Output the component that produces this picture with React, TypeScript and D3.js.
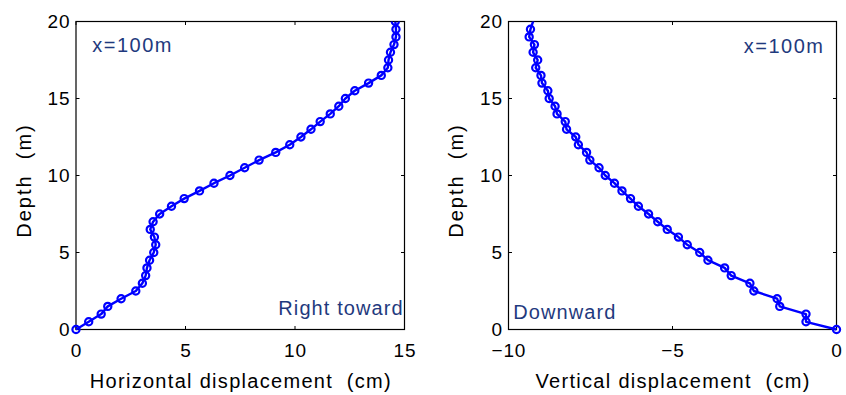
import React from "react";
import * as d3 from "d3";

// depth (m)
const depthLeft = [0, 0.5, 1, 1.5, 2, 2.5, 3, 3.5, 4, 4.5, 5, 5.5, 6, 6.5, 7, 7.5, 8, 8.5, 9, 9.5, 10,
  10.5, 11, 11.5, 12, 12.5, 13, 13.5, 14, 14.5, 15, 15.5, 16, 16.5, 17, 17.5, 18, 18.5, 19, 19.5, 20];
// horizontal displacement (cm)
const horizontal = [0, 0.58, 1.15, 1.45, 2.06, 2.73, 3.03, 3.18, 3.24, 3.36, 3.55, 3.64, 3.58, 3.39, 3.52,
  3.82, 4.36, 4.94, 5.64, 6.3, 7.03, 7.7, 8.36, 9.12, 9.76, 10.27, 10.73, 11.15, 11.61, 12.0, 12.3,
  12.73, 13.36, 13.94, 14.24, 14.27, 14.36, 14.52, 14.61, 14.61, 14.58];

const depthRight = [0, 0.5, 1, 1.5, 2, 2.5, 3, 3.5, 4, 4.5, 5, 5.5, 6, 6.5, 7, 7.5, 8, 8.5, 9, 9.5, 10,
  10.5, 11, 11.5, 12, 12.5, 13, 13.5, 14, 14.5, 15, 15.5, 16, 16.5, 17, 17.5, 18, 18.5, 19, 19.5, 20.5];
// vertical displacement (cm)
const vertical = [0, -0.93, -0.93, -1.73, -1.81, -2.52, -2.64, -3.21, -3.41, -3.92, -4.17, -4.55, -4.82,
  -5.16, -5.45, -5.73, -6.04, -6.28, -6.54, -6.77, -7.05, -7.24, -7.52, -7.62, -7.87, -7.95, -8.23,
  -8.27, -8.52, -8.58, -8.76, -8.8, -8.98, -9.01, -9.17, -9.11, -9.25, -9.21, -9.37, -9.33, -9.17];

const leftXTicks = [0, 5, 10, 15];
const rightXTicks = [-10, -5, 0];
const yTicks = [0, 5, 10, 15, 20];

const FONT = "'Liberation Sans', Arial, Helvetica, sans-serif";
const NAVY = "#1f3a7e";
const BLUE = "#0000ff";

const TOP = 21.5;
const BOTTOM = 329.5;
const TICK_FS = 19;
const TICK_LS = 0.8;
const LABEL_FS = 20;

type Tag = { text: string; x: number; y: number; anchor: string; ls: number };

type PanelProps = {
  id: string;
  x0: number;
  x1: number;
  xDomain: [number, number];
  xTicks: number[];
  xs: number[];
  ys: number[];
  xLabel: string;
  tag: Tag;
  dir: Tag;
};

function fmt(v: number) {
  return v < 0 ? "\u2212" + Math.abs(v) : String(v);
}

function TagText({ t }: { t: Tag }) {
  const x = t.anchor === "end" ? t.x + t.ls : t.anchor === "middle" ? t.x + t.ls / 2 : t.x;
  return (
    <text x={x} y={t.y} textAnchor={t.anchor} fontSize={LABEL_FS} fontFamily={FONT} fill={NAVY} letterSpacing={t.ls}>
      {t.text}
    </text>
  );
}

function Panel(p: PanelProps) {
  const xs = d3.scaleLinear().domain(p.xDomain).range([p.x0, p.x1]);
  const ys = d3.scaleLinear().domain([0, 20]).range([BOTTOM, TOP]);
  const pts: [number, number][] = p.xs.map((v, i) => [v, p.ys[i]]);
  const line = d3.line<[number, number]>().x((d) => xs(d[0])).y((d) => ys(d[1]));
  const tl = 3.5;
  const cx = (p.x0 + p.x1) / 2;
  return (
    <g>
      <defs>
        <clipPath id={p.id}>
          <rect x={p.x0 - 6} y={TOP} width={p.x1 - p.x0 + 12} height={BOTTOM - TOP + 6} />
        </clipPath>
      </defs>
      {p.xTicks.map((t) => (
        <g key={"xt" + t}>
          <line x1={xs(t)} x2={xs(t)} y1={BOTTOM} y2={BOTTOM - tl} stroke="#000" strokeWidth={1} />
          <line x1={xs(t)} x2={xs(t)} y1={TOP} y2={TOP + tl} stroke="#000" strokeWidth={1} />
          <text x={xs(t) + TICK_LS / 2} y={BOTTOM + 27} textAnchor="middle" fontSize={TICK_FS} fontFamily={FONT} fill="#000" letterSpacing={TICK_LS}>
            {fmt(t)}
          </text>
        </g>
      ))}
      {yTicks.map((t) => (
        <g key={"yt" + t}>
          <line x1={p.x0} x2={p.x0 + tl} y1={ys(t)} y2={ys(t)} stroke="#000" strokeWidth={1} />
          <line x1={p.x1} x2={p.x1 - tl} y1={ys(t)} y2={ys(t)} stroke="#000" strokeWidth={1} />
          <text x={p.x0 - 6.5 + TICK_LS} y={ys(t) + 6.6} textAnchor="end" fontSize={TICK_FS} fontFamily={FONT} fill="#000" letterSpacing={TICK_LS}>
            {fmt(t)}
          </text>
        </g>
      ))}
      <rect x={p.x0} y={TOP} width={p.x1 - p.x0} height={BOTTOM - TOP} fill="none" stroke="#000" strokeWidth={1.2} />
      <g clipPath={`url(#${p.id})`}>
        <path d={line(pts) || ""} fill="none" stroke={BLUE} strokeWidth={2.4} strokeLinejoin="round" />
        {pts.map((d, i) =>
          d[1] <= 20 ? (
            <circle key={i} cx={xs(d[0])} cy={ys(d[1])} r={3.6} fill="none" stroke={BLUE} strokeWidth={2.2} />
          ) : null
        )}
      </g>
      <TagText t={p.tag} />
      <TagText t={p.dir} />
      <text x={cx + 0.65} y={387.5} textAnchor="middle" fontSize={LABEL_FS} fontFamily={FONT} fill="#000" letterSpacing={1.3} style={{ whiteSpace: "pre" }}>
        {p.xLabel}
      </text>
      <text
        transform={`translate(${p.x0 - 45.5},${(TOP + BOTTOM) / 2 + 5}) rotate(-90)`}
        textAnchor="middle"
        fontSize={LABEL_FS}
        fontFamily={FONT}
        fill="#000"
        letterSpacing={2}
        style={{ whiteSpace: "pre" }}
      >
        {"Depth  (m)"}
      </text>
    </g>
  );
}

export default function App() {
  return (
    <svg width={846} height={395} style={{ position: "absolute", left: 0, top: 0, background: "#fff" }}>
      <rect width={846} height={395} fill="#fff" />
      <Panel
        id="clipL"
        x0={76}
        x1={404.5}
        xDomain={[0, 15]}
        xTicks={leftXTicks}
        xs={horizontal}
        ys={depthLeft}
        xLabel={"Horizontal displacement  (cm)"}
        tag={{ text: "x=100m", x: 92.3, y: 52, anchor: "start", ls: 1.5 }}
        dir={{ text: "Right toward", x: 402.7, y: 315.3, anchor: "end", ls: 1.1 }}
      />
      <Panel
        id="clipR"
        x0={508.5}
        x1={836.5}
        xDomain={[-10, 0]}
        xTicks={rightXTicks}
        xs={vertical}
        ys={depthRight}
        xLabel={"Vertical displacement  (cm)"}
        tag={{ text: "x=100m", x: 823, y: 53, anchor: "end", ls: 1.5 }}
        dir={{ text: "Downward", x: 513.3, y: 319.3, anchor: "start", ls: 1.1 }}
      />
    </svg>
  );
}
